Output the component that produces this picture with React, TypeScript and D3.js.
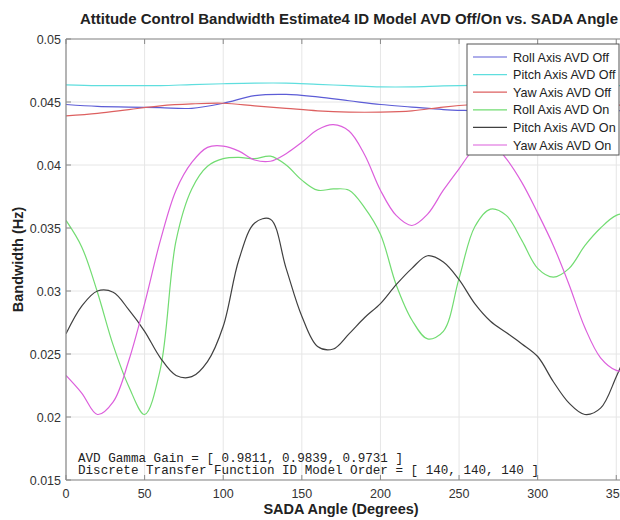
import React from 'react';
import * as d3 from 'd3';

const TITLE = 'Attitude Control Bandwidth Estimate4 ID Model AVD Off/On vs. SADA Angle';
const X_LABEL = 'SADA Angle (Degrees)';
const Y_LABEL = 'Bandwidth (Hz)';
const NOTE_LINES = [
  'AVD Gamma Gain = [ 0.9811, 0.9839, 0.9731 ]',
  'Discrete Transfer Function ID Model Order = [ 140, 140, 140 ]',
];

const xTicks = [0, 50, 100, 150, 200, 250, 300, 350];
const yTicks = [0.015, 0.02, 0.025, 0.03, 0.035, 0.04, 0.045, 0.05];
const yTickLabels = ['0.015', '0.02', '0.025', '0.03', '0.035', '0.04', '0.045', '0.05'];

// AVD Off series (sampled every 20 degrees)
const offAngles = [0, 20, 40, 60, 80, 100, 120, 140, 160, 180, 200, 220, 240, 260, 280, 300, 320, 340, 360];
const rollOff = [0.0448, 0.04465, 0.0446, 0.04455, 0.0445, 0.0449, 0.0455, 0.0456, 0.0454, 0.0451, 0.0448, 0.0446, 0.0444, 0.0443, 0.0442, 0.0442, 0.0442, 0.0443, 0.0443];
const pitchOff = [0.04636, 0.0463, 0.0463, 0.0463, 0.04638, 0.04645, 0.0465, 0.0465, 0.0464, 0.0463, 0.0462, 0.0462, 0.04628, 0.04632, 0.04632, 0.0463, 0.0463, 0.0463, 0.0463];
const yawOff = [0.0439, 0.0441, 0.0444, 0.0447, 0.04485, 0.0449, 0.0447, 0.0445, 0.0443, 0.0442, 0.0442, 0.0443, 0.0446, 0.0448, 0.0449, 0.0449, 0.0448, 0.0448, 0.0447];

// AVD On series (sampled every 10 degrees)
const onAngles = [0, 10, 20, 30, 40, 50, 60, 70, 80, 90, 100, 110, 120, 130, 140, 150, 160, 170, 180, 190, 200, 210, 220, 230, 240, 250, 260, 270, 280, 290, 300, 310, 320, 330, 340, 350, 360];
const rollOn = [0.0356, 0.0335, 0.0299, 0.0257, 0.0224, 0.0202, 0.0238, 0.0340, 0.0381, 0.0399, 0.0405, 0.0406, 0.0405, 0.0407, 0.0400, 0.0388, 0.0380, 0.0381, 0.0380, 0.0366, 0.0345, 0.0305, 0.0277, 0.0262, 0.0268, 0.0310, 0.0351, 0.0365, 0.0360, 0.0340, 0.0318, 0.0311, 0.0318, 0.0336, 0.0350, 0.0360, 0.0362];
const pitchOn = [0.0266, 0.0288, 0.0300, 0.0299, 0.0285, 0.0268, 0.0247, 0.0233, 0.0232, 0.0244, 0.0272, 0.0325, 0.0354, 0.0357, 0.0318, 0.0280, 0.0256, 0.0254, 0.0266, 0.0279, 0.0290, 0.0305, 0.0318, 0.0328, 0.0323, 0.0309, 0.0290, 0.0276, 0.0267, 0.0258, 0.0248, 0.0228, 0.0211, 0.0202, 0.0207, 0.0232, 0.0262];
const yawOn = [0.0233, 0.0219, 0.0202, 0.0212, 0.0245, 0.0290, 0.0340, 0.0380, 0.0402, 0.0414, 0.0415, 0.0411, 0.0404, 0.0403, 0.0409, 0.0418, 0.0428, 0.0432, 0.0427, 0.0408, 0.0380, 0.0360, 0.0352, 0.0361, 0.0380, 0.0397, 0.0413, 0.0418, 0.0405, 0.0386, 0.0362, 0.0336, 0.0305, 0.0271, 0.0247, 0.0237, 0.0236];

const seriesNames = ['Roll Axis AVD Off', 'Pitch Axis AVD Off', 'Yaw Axis AVD Off', 'Roll Axis AVD On', 'Pitch Axis AVD On', 'Yaw Axis AVD On'];
const seriesColors = ['#5c5cd6', '#5fdede', '#dd6060', '#72dc72', '#404040', '#dc5fdc'];

const series = [
  { x: offAngles, y: rollOff },
  { x: offAngles, y: pitchOff },
  { x: offAngles, y: yawOff },
  { x: onAngles, y: rollOn },
  { x: onAngles, y: pitchOn },
  { x: onAngles, y: yawOn },
];

const W = 620;
const H = 520;
const left = 66;
const right = 632;
const top = 39;
const bottom = 480;
const SANS = '"Liberation Sans", Arial, Helvetica, sans-serif';

export default function App() {
  const x = d3.scaleLinear().domain([0, 360]).range([left, right]);
  const y = d3.scaleLinear().domain([0.015, 0.05]).range([bottom, top]);
  const line = d3
    .line<[number, number]>()
    .x((d) => x(d[0]))
    .y((d) => y(d[1]))
    .curve(d3.curveCatmullRom.alpha(0.5));

  const cx = (left + right) / 2;
  const cy = (top + bottom) / 2;

  const legX = 467;
  const legY = 44;
  const legW = 152;
  const legH = 111;
  const rowH = 17.6;

  return (
    <svg width={W} height={H} style={{ position: 'absolute', left: 0, top: 0, background: '#fff' }}>
      <rect x={0} y={0} width={W} height={H} fill="#fff" />
      <defs>
        <clipPath id="plotclip">
          <rect x={left} y={top} width={right - left} height={bottom - top} />
        </clipPath>
      </defs>
      {/* grid */}
      {xTicks.map((t) => (
        <line key={'gx' + t} x1={x(t)} x2={x(t)} y1={top} y2={bottom} stroke="#e6e6e6" strokeWidth={1} />
      ))}
      {yTicks.map((t) => (
        <line key={'gy' + t} x1={left} x2={right} y1={y(t)} y2={y(t)} stroke="#e6e6e6" strokeWidth={1} />
      ))}
      {/* series */}
      <g clipPath="url(#plotclip)">
        {series.map((s, i) => (
          <path
            key={'s' + i}
            d={line(s.x.map((a, j) => [a, s.y[j]] as [number, number])) || ''}
            fill="none"
            stroke={seriesColors[i]}
            strokeWidth={1.2}
          />
        ))}
      </g>
      {/* axes box */}
      <line x1={left} x2={left} y1={top} y2={bottom} stroke="#8a8a8a" strokeWidth={1.2} />
      <line x1={left} x2={right} y1={bottom} y2={bottom} stroke="#8a8a8a" strokeWidth={1.2} />
      <line x1={left} x2={right} y1={top} y2={top} stroke="#8a8a8a" strokeWidth={1.2} />
      {xTicks.map((t) => (
        <g key={'tx' + t}>
          <line x1={x(t)} x2={x(t)} y1={bottom} y2={bottom - 5} stroke="#8a8a8a" />
          <line x1={x(t)} x2={x(t)} y1={top} y2={top + 5} stroke="#8a8a8a" />
          <text x={x(t)} y={bottom + 18} textAnchor="middle" fontFamily={SANS} fontSize={12.5} fill="#333">
            {t}
          </text>
        </g>
      ))}
      {yTicks.map((t, i) => (
        <g key={'ty' + t}>
          <line x1={left} x2={left + 5} y1={y(t)} y2={y(t)} stroke="#8a8a8a" />
          <text x={left - 5} y={y(t) + 4.5} textAnchor="end" fontFamily={SANS} fontSize={12.5} fill="#333">
            {yTickLabels[i]}
          </text>
        </g>
      ))}
      {/* annotation */}
      {NOTE_LINES.map((s, i) => (
        <text
          key={'n' + i}
          x={78}
          y={462 + i * 11.5}
          fontFamily='"Liberation Mono", "Courier New", monospace'
          fontSize={12.6}
          fill="#222"
          style={{ whiteSpace: 'pre' }}
        >
          {s}
        </text>
      ))}
      {/* legend */}
      <rect x={legX} y={legY} width={legW} height={legH} fill="#fff" stroke="#555" strokeWidth={1} />
      {seriesNames.map((n, i) => (
        <g key={'l' + i}>
          <line
            x1={legX + 6}
            x2={legX + 40}
            y1={legY + 13 + i * rowH}
            y2={legY + 13 + i * rowH}
            stroke={seriesColors[i]}
            strokeWidth={1.2}
          />
          <text x={legX + 46} y={legY + 17.5 + i * rowH} fontFamily={SANS} fontSize={12.6} fill="#222">
            {n}
          </text>
        </g>
      ))}
      {/* titles */}
      <text x={cx} y={24} textAnchor="middle" fontFamily={SANS} fontWeight="bold" fontSize={15} fill="#222">
        {TITLE}
      </text>
      <text x={cx - 8} y={514} textAnchor="middle" fontFamily={SANS} fontWeight="bold" fontSize={14.5} fill="#222">
        {X_LABEL}
      </text>
      <text
        transform={`translate(23, ${cy}) rotate(-90)`}
        textAnchor="middle"
        fontFamily={SANS}
        fontWeight="bold"
        fontSize={14.5}
        fill="#222"
      >
        {Y_LABEL}
      </text>
    </svg>
  );
}
